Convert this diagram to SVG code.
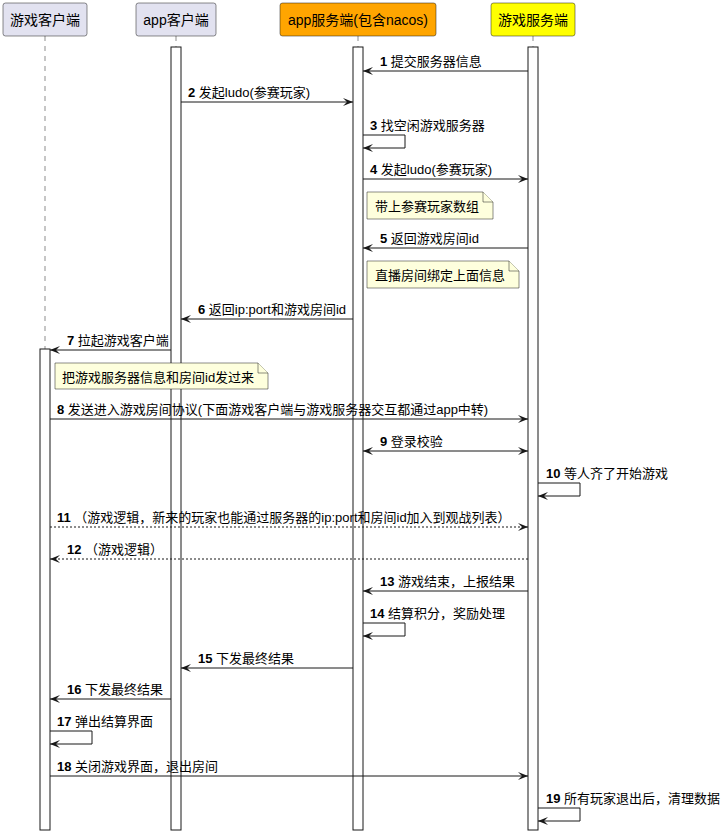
<svg xmlns="http://www.w3.org/2000/svg" width="725" height="834" viewBox="0 0 725 834">
<style>
text{font-family:"Liberation Sans","Noto Sans CJK SC",sans-serif;fill:#000}
.hd{font-size:14px;text-anchor:middle}
.lb{font-size:13px}
.n{font-weight:bold}
.box{stroke:#181818;stroke-width:0.5}
.life{stroke:#181818;stroke-width:0.5;stroke-dasharray:5,5;fill:none}
.bar{fill:#fff;stroke:#181818;stroke-width:1}
.note{fill:#FEFFDD;stroke:#181818;stroke-width:0.5}
.m{stroke:#181818;stroke-width:1;fill:none;marker-end:url(#ah)}
.d{stroke-dasharray:2,2}
</style>
<defs>
<marker id="ah" markerUnits="userSpaceOnUse" markerWidth="10" markerHeight="8" refX="10" refY="4" orient="auto-start-reverse" viewBox="0 0 10 8">
<path d="M0,0 L10,4 L0,8 L4,4 Z" fill="#181818"/>
</marker>
</defs>
<rect width="725" height="834" fill="#fff"/>

<g id="p-gameclient">
<line class="life" x1="45" y1="36" x2="45" y2="349"/>
<rect class="box" x="3" y="3" width="84" height="33" rx="2.5" fill="#E2E2F0"/>
<text class="hd" x="45" y="24.5">游戏客户端</text>
<rect class="bar" x="40" y="349" width="10" height="481"/>
</g>
<g id="p-appclient">
<line class="life" x1="176" y1="36" x2="176" y2="47"/>
<rect class="box" x="136" y="3" width="80" height="33" rx="2.5" fill="#E2E2F0"/>
<text class="hd" x="176" y="24.5">app客户端</text>
<rect class="bar" x="171" y="47" width="10" height="783"/>
</g>
<g id="p-appserver">
<line class="life" x1="358" y1="36" x2="358" y2="47"/>
<rect class="box" x="280" y="3" width="156" height="33" rx="2.5" fill="#FFA500"/>
<text class="hd" x="358" y="24.5">app服务端(包含nacos)</text>
<rect class="bar" x="353" y="47" width="10" height="783"/>
</g>
<g id="p-gameserver">
<line class="life" x1="533" y1="36" x2="533" y2="47"/>
<rect class="box" x="491" y="3" width="84" height="33" rx="2.5" fill="#FFFF00"/>
<text class="hd" x="533" y="24.5">游戏服务端</text>
<rect class="bar" x="528" y="47" width="10" height="783"/>
</g>

<g id="note-1">
<path class="note" d="M367,192 L367,219 L493,219 L493,202 L483,192 Z"/>
<path class="note" d="M483,192 L483,202 L493,202" fill="none"/>
<text class="lb" x="375" y="211">带上参赛玩家数组</text>
</g>
<g id="note-2">
<path class="note" d="M367,261 L367,288 L519,288 L519,271 L509,261 Z"/>
<path class="note" d="M509,261 L509,271 L519,271" fill="none"/>
<text class="lb" x="375" y="280">直播房间绑定上面信息</text>
</g>
<g id="note-3">
<path class="note" d="M55,363 L55,389 L268,389 L268,373 L258,363 Z"/>
<path class="note" d="M258,363 L258,373 L268,373" fill="none"/>
<text class="lb" x="62" y="382">把游戏服务器信息和房间id发过来</text>
</g>

<g id="connectors">
<line class="m" x1="528" y1="71" x2="363" y2="71"/>
<text class="lb" x="380" y="66"><tspan class="n">1</tspan> 提交服务器信息</text>

<line class="m" x1="181" y1="102" x2="353" y2="102"/>
<text class="lb" x="188" y="97"><tspan class="n">2</tspan> 发起ludo(参赛玩家)</text>

<path class="m" d="M363,135 H405 V148 H363"/>
<text class="lb" x="370" y="130"><tspan class="n">3</tspan> 找空闲游戏服务器</text>

<line class="m" x1="363" y1="179" x2="528" y2="179"/>
<text class="lb" x="370" y="174"><tspan class="n">4</tspan> 发起ludo(参赛玩家)</text>

<line class="m" x1="528" y1="248" x2="363" y2="248"/>
<text class="lb" x="380" y="243"><tspan class="n">5</tspan> 返回游戏房间id</text>

<line class="m" x1="353" y1="319" x2="181" y2="319"/>
<text class="lb" x="198" y="314"><tspan class="n">6</tspan> 返回ip:port和游戏房间id</text>

<line class="m" x1="171" y1="350" x2="50" y2="350"/>
<text class="lb" x="67" y="345"><tspan class="n">7</tspan> 拉起游戏客户端</text>

<line class="m" x1="50" y1="419" x2="528" y2="419"/>
<text class="lb" x="57" y="414"><tspan class="n">8</tspan> 发送进入游戏房间协议(下面游戏客户端与游戏服务器交互都通过app中转)</text>

<line class="m" x1="363" y1="451" x2="528" y2="451" marker-start="url(#ah)"/>
<text class="lb" x="380" y="446"><tspan class="n">9</tspan> 登录校验</text>

<path class="m" d="M538,483 H580 V496 H538"/>
<text class="lb" x="546" y="478"><tspan class="n">10</tspan> 等人齐了开始游戏</text>

<line class="m d" x1="50" y1="527" x2="528" y2="527"/>
<text class="lb" x="57" y="522"><tspan class="n">11</tspan> （游戏逻辑，新来的玩家也能通过服务器的ip:port和房间id加入到观战列表）</text>

<line class="m d" x1="528" y1="559" x2="50" y2="559"/>
<text class="lb" x="67" y="554"><tspan class="n">12</tspan> （游戏逻辑）</text>

<line class="m" x1="528" y1="591" x2="363" y2="591"/>
<text class="lb" x="380" y="586"><tspan class="n">13</tspan> 游戏结束，上报结果</text>

<path class="m" d="M363,623 H405 V636 H363"/>
<text class="lb" x="370" y="618"><tspan class="n">14</tspan> 结算积分，奖励处理</text>

<line class="m" x1="353" y1="668" x2="181" y2="668"/>
<text class="lb" x="198" y="663"><tspan class="n">15</tspan> 下发最终结果</text>

<line class="m" x1="171" y1="699" x2="50" y2="699"/>
<text class="lb" x="67" y="694"><tspan class="n">16</tspan> 下发最终结果</text>

<path class="m" d="M50,731 H92 V744 H50"/>
<text class="lb" x="57" y="726"><tspan class="n">17</tspan> 弹出结算界面</text>

<line class="m" x1="50" y1="776" x2="528" y2="776"/>
<text class="lb" x="57" y="771"><tspan class="n">18</tspan> 关闭游戏界面，退出房间</text>

<path class="m" d="M538,808 H580 V821 H538"/>
<text class="lb" x="546" y="803"><tspan class="n">19</tspan> 所有玩家退出后，清理数据</text>
</g>
</svg>
